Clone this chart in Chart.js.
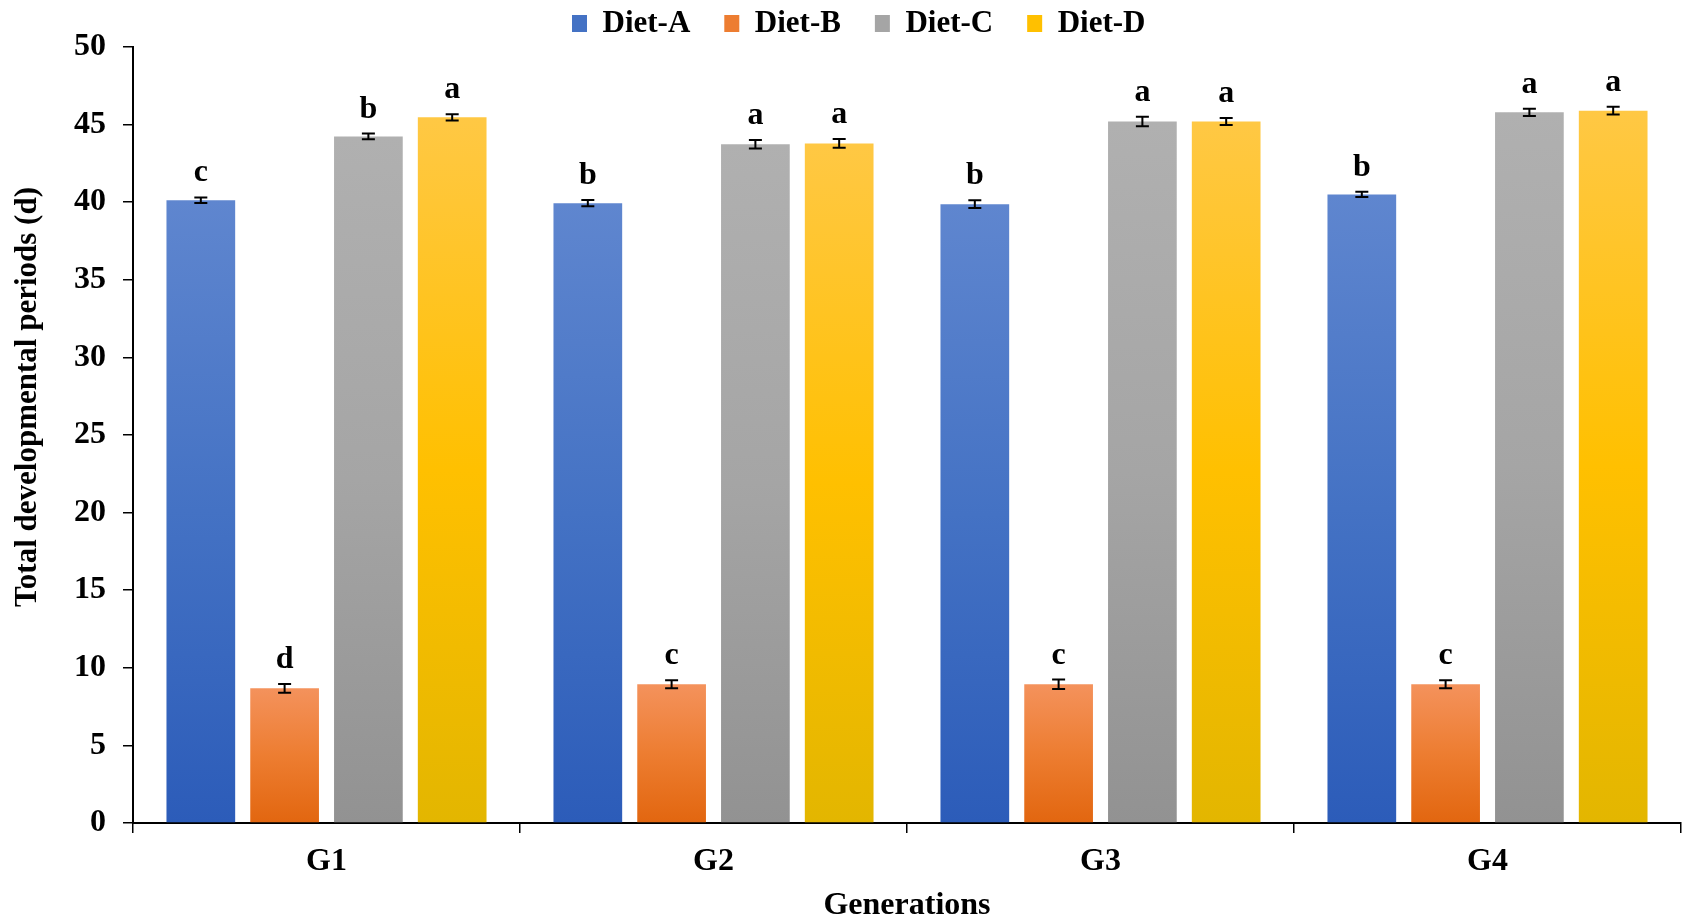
<!DOCTYPE html>
<html>
<head>
<meta charset="utf-8">
<script src="https://cdn.jsdelivr.net/npm/chart.js@4/dist/chart.umd.min.js"></script>
<style>
  html, body { margin: 0; padding: 0; background: #ffffff; }
  #wrap { width: 1684px; height: 922px; position: relative; }
</style>
</head>
<body>
<div id="wrap"><canvas id="c" width="1684" height="922"></canvas></div>
<script>
// ---- Data ----
const categories = ['G1', 'G2', 'G3', 'G4'];
const seriesNames = ['Diet-A', 'Diet-B', 'Diet-C', 'Diet-D'];
const dietA = [40.13, 39.94, 39.87, 40.50];
const dietB = [8.68, 8.94, 8.94, 8.94];
const dietC = [44.24, 43.73, 45.20, 45.79];
const dietD = [45.47, 43.79, 45.20, 45.90];
const errA = [0.18, 0.20, 0.25, 0.17];
const errB = [0.28, 0.26, 0.30, 0.26];
const errC = [0.18, 0.27, 0.30, 0.23];
const errD = [0.20, 0.28, 0.22, 0.25];
const lettersA = ['c', 'b', 'b', 'b'];
const lettersB = ['d', 'c', 'c', 'c'];
const lettersC = ['b', 'a', 'a', 'a'];
const lettersD = ['a', 'a', 'a', 'a'];
const yTicks = [0, 5, 10, 15, 20, 25, 30, 35, 40, 45, 50];

// ---- Styles ----
const FONT = "'Liberation Serif', 'Times New Roman', serif";
const gradStops = [
  ['#5F86CF', '#4472C4', '#2C5CB9'],
  ['#F4925C', '#ED7D31', '#E2660F'],
  ['#B0B0B0', '#A5A5A5', '#929292'],
  ['#FFC844', '#FFC000', '#E3B600']
];
const LEGEND_PAD = 34;
const LEGEND_FONT = 31;

function barGradient(i) {
  return function (ctx) {
    const chart = ctx.chart;
    const y = chart.scales && chart.scales.y;
    if (!chart.chartArea || !y || ctx.type !== 'data') return gradStops[i][1];
    const top = y.getPixelForValue(ctx.raw);
    const bot = y.getPixelForValue(0);
    if (!isFinite(top) || !isFinite(bot) || top === bot) return gradStops[i][1];
    const g = chart.ctx.createLinearGradient(0, top, 0, bot);
    g.addColorStop(0, gradStops[i][0]);
    g.addColorStop(0.5, gradStops[i][1]);
    g.addColorStop(1, gradStops[i][2]);
    return g;
  };
}

const values = [dietA, dietB, dietC, dietD];
const errors = [errA, errB, errC, errD];
const letters = [lettersA, lettersB, lettersC, lettersD];

const datasets = seriesNames.map((name, i) => ({
  label: name,
  data: values[i],
  backgroundColor: barGradient(i),
  borderWidth: 0,
  categoryPercentage: 0.866,
  barPercentage: 0.82,
  errs: errors[i],
  letters: letters[i]
}));

const errorBarPlugin = {
  id: 'errorBars',
  afterDatasetsDraw(chart) {
    const ctx = chart.ctx;
    const y = chart.scales.y;
    ctx.save();
    chart.data.datasets.forEach((ds, di) => {
      const meta = chart.getDatasetMeta(di);
      meta.data.forEach((bar, j) => {
        const v = ds.data[j], e = ds.errs[j];
        const yt = y.getPixelForValue(v + e);
        const yb = y.getPixelForValue(v - e);
        const x = bar.x;
        ctx.strokeStyle = '#000';
        ctx.lineWidth = 2;
        ctx.beginPath();
        ctx.moveTo(x, yt); ctx.lineTo(x, yb);
        ctx.moveTo(x - 6.5, yt); ctx.lineTo(x + 6.5, yt);
        ctx.moveTo(x - 6.5, yb); ctx.lineTo(x + 6.5, yb);
        ctx.stroke();
        ctx.fillStyle = '#000';
        ctx.font = 'bold 32px ' + FONT;
        ctx.textAlign = 'center';
        ctx.textBaseline = 'alphabetic';
        ctx.fillText(ds.letters[j], x, yt - 16);
      });
    });
    ctx.restore();
  }
};

const yTitlePlugin = {
  id: 'yTitle',
  afterDraw(chart) {
    const ctx = chart.ctx;
    ctx.save();
    ctx.translate(28, 397);
    ctx.rotate(-Math.PI / 2);
    ctx.fillStyle = '#000';
    ctx.font = 'bold 31px ' + FONT;
    ctx.textAlign = 'center';
    ctx.textBaseline = 'middle';
    ctx.fillText('Total developmental periods (d)', 0, 0);
    ctx.restore();
  }
};

const legendShiftPlugin = {
  id: 'legendShift',
  afterLayout(chart) {
    const lg = chart.legend;
    if (!lg || !lg.lineWidths) return;
    const x0 = (lg.left + LEGEND_PAD + lg.right - lg.lineWidths[0]) / 2;
    const dx = 572 - x0;
    lg.left += dx; lg.right += dx;
    const targetTop = 23.5 - LEGEND_FONT / 2 - LEGEND_PAD;
    const dy = targetTop - lg.top;
    lg.top += dy;
    lg.bottom = 46;
    if (lg.legendHitBoxes) lg.legendHitBoxes.forEach(b => { b.left += dx; b.top += dy; });
  }
};

new Chart(document.getElementById('c'), {
  type: 'bar',
  data: { labels: categories, datasets: datasets },
  plugins: [errorBarPlugin, yTitlePlugin, legendShiftPlugin],
  options: {
    responsive: false,
    animation: false,
    devicePixelRatio: 1,
    layout: { padding: { left: 0, right: 3, top: 0, bottom: 0 } },
    plugins: {
      tooltip: { enabled: false },
      legend: {
        position: 'top',
        align: 'center',
        maxHeight: 47,
        labels: {
          color: '#000',
          font: { family: FONT, size: LEGEND_FONT, weight: 'bold' },
          boxWidth: 15,
          boxHeight: 17,
          padding: LEGEND_PAD,
          generateLabels(chart) {
            return chart.data.datasets.map((ds, i) => ({
              text: ds.label,
              fillStyle: gradStops[i][1],
              strokeStyle: gradStops[i][1],
              lineWidth: 0,
              hidden: false,
              datasetIndex: i,
              fontColor: '#000'
            }));
          }
        }
      }
    },
    scales: {
      x: {
        type: 'category',
        offset: true,
        grid: {
          offset: true,
          drawOnChartArea: false,
          drawTicks: true,
          tickLength: 10,
          color: '#000',
          lineWidth: 1.5
        },
        border: { display: true, color: '#000', width: 2 },
        ticks: {
          color: '#000',
          font: { family: FONT, size: 32, weight: 'bold', lineHeight: 1 },
          padding: 13,
          maxRotation: 0
        },
        title: {
          display: true,
          text: 'Generations',
          color: '#000',
          font: { family: FONT, size: 32, weight: 'bold', lineHeight: 1 },
          padding: { top: 0, bottom: 0 }
        },
        afterFit(scale) { scale.height = 99; }
      },
      y: {
        min: 0,
        max: 50,
        afterBuildTicks(scale) { scale.ticks = yTicks.map(v => ({ value: v })); },
        grid: {
          drawOnChartArea: false,
          drawTicks: true,
          tickLength: 10,
          color: '#000',
          lineWidth: 1.5
        },
        border: { display: true, color: '#000', width: 2 },
        ticks: {
          color: '#000',
          font: { family: FONT, size: 32, weight: 'bold' },
          padding: 17
        },
        title: { display: false },
        afterFit(scale) { scale.width = 133; }
      }
    }
  }
});
</script>
</body>
</html>
